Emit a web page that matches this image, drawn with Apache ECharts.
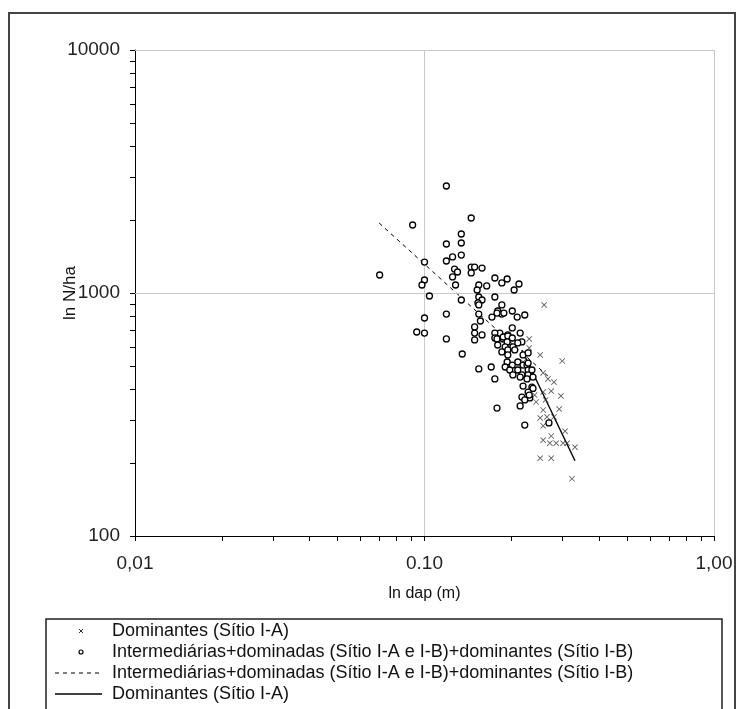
<!DOCTYPE html>
<html>
<head>
<meta charset="utf-8">
<script src="https://cdn.jsdelivr.net/npm/echarts@6/dist/echarts.min.js"></script>
<style>html,body{margin:0;padding:0;background:#fff}#c{width:744px;height:709px}</style>
</head>
<body>
<div id="c"></div>
<script>
// ---- data ----
const xMajorValues = [0.01, 0.1, 1];
const xMajorLabels = ['0,01', '0.10', '1,00'];
const yMajorValues = [100, 1000, 10000];
const yMajorLabels = ['100', '1000', '10000'];
const xTickValues = [0.01,0.02,0.03,0.04,0.05,0.06,0.07,0.08,0.09,0.1,0.2,0.3,0.4,0.5,0.6,0.7,0.8,0.9,1];
const yTickValues = [100,200,300,400,500,600,700,800,900,1000,2000,3000,4000,5000,6000,7000,8000,9000,10000];

const seriesNames = [
  'Dominantes (Sítio I-A)',
  'Intermediárias+dominadas (Sítio I-A e I-B)+dominantes (Sítio I-B)'
];

const dominantPoints = [
  [0.259,893],[0.230,647],[0.230,594],[0.251,556],[0.219,520],[0.228,496],[0.235,473],
  [0.299,525],[0.257,469],[0.267,443],[0.280,430],[0.296,377],[0.257,391],[0.274,395],
  [0.240,380],[0.243,356],[0.262,363],[0.292,333],[0.257,330],[0.265,309],[0.251,306],
  [0.257,284],[0.280,309],[0.306,270],[0.274,258],[0.257,248],[0.271,241],[0.285,241],
  [0.301,241],[0.311,241],[0.331,232],[0.251,209],[0.274,209],[0.323,172]
];

const otherPoints = [
  [0.119,2756],[0.091,1905],[0.145,2035],[0.070,1186],[0.134,1749],[0.134,1606],[0.119,1591],
  [0.134,1433],[0.125,1407],[0.119,1354],[0.100,1341],[0.145,1279],[0.149,1279],[0.158,1267],
  [0.127,1255],[0.130,1220],[0.145,1209],[0.125,1164],[0.175,1153],[0.193,1142],[0.185,1100],
  [0.100,1131],[0.098,1079],[0.128,1079],[0.154,1079],[0.164,1069],[0.212,1089],[0.204,1029],
  [0.152,1029],[0.104,972],[0.154,963],[0.175,963],[0.158,936],[0.134,936],[0.153,910],
  [0.154,893],[0.185,893],[0.119,819],[0.154,819],[0.179,843],[0.201,843],[0.185,819],
  [0.178,827],[0.188,827],[0.222,812],[0.100,789],[0.171,796],[0.209,796],[0.156,767],
  [0.149,725],[0.201,718],[0.094,691],[0.100,684],[0.149,684],[0.158,672],[0.149,641],
  [0.119,647],[0.182,684],[0.175,684],[0.194,672],[0.214,684],[0.175,653],[0.178,647],
  [0.187,647],[0.187,659],[0.194,665],[0.201,653],[0.193,629],[0.217,629],[0.179,611],
  [0.190,600],[0.202,600],[0.210,623],[0.185,572],[0.194,583],[0.205,583],[0.135,561],
  [0.194,556],[0.219,556],[0.228,567],[0.193,520],[0.210,520],[0.201,505],[0.219,505],
  [0.226,505],[0.228,515],[0.228,482],[0.235,482],[0.210,482],[0.154,487],[0.170,496],
  [0.190,496],[0.197,482],[0.217,460],[0.228,460],[0.237,451],[0.214,451],[0.202,460],
  [0.226,443],[0.175,443],[0.219,414],[0.235,410],[0.237,405],[0.217,373],[0.228,391],
  [0.231,370],[0.230,380],[0.222,363],[0.178,336],[0.214,343],[0.269,292],[0.222,286]
];

// fitted lines (end points)
const dashedLineX = [0.0697, 0.269];
const dashedLineY = [1941, 451];
const solidLineX = [0.217, 0.331];
const solidLineY = [583, 204];

// ---- chart ----
const FONT = 'Liberation Sans, Arial, sans-serif';
const crossPath = 'path://M0,1 L1,0 L5,4 L9,0 L10,1 L6,5 L10,9 L9,10 L5,6 L1,10 L0,9 L4,5 Z';

function labelFor(values, labels, v) {
  for (let i = 0; i < values.length; i++) {
    if (Math.abs(Math.log10(values[i]) - Math.log10(v)) < 1e-6) return labels[i];
  }
  return '';
}

const chart = echarts.init(document.getElementById('c'), null, {renderer: 'canvas'});
const gridLineData = [
  {xAxis: 0.1}, {xAxis: 1}, {yAxis: 1000}, {yAxis: 10000}
];

const legendTop = 631, legendStep = 21;
const legendFont = '18px ' + FONT;
const option = {
  backgroundColor: '#fff',
  animation: false,
  grid: {left: 135, top: 50, right: 30, bottom: 173, containLabel: false},
  xAxis: {
    type: 'log', logBase: 10, min: 0.01, max: 1,
    name: 'ln dap (m)', nameLocation: 'middle', nameGap: 50, nameMoveOverlap: false,
    nameTextStyle: {fontFamily: FONT, fontSize: 16, color: '#111'},
    axisLine: {show: true, onZero: false, lineStyle: {color: '#000', width: 1}},
    axisTick: {show: true, inside: false, length: 5, customValues: xTickValues, lineStyle: {color: '#000'}},
    axisLabel: {fontFamily: FONT, fontSize: 19, color: '#222', margin: 18,
      formatter: v => labelFor(xMajorValues, xMajorLabels, v)},
    splitLine: {show: false},
    minorTick: {show: false}
  },
  yAxis: {
    type: 'log', logBase: 10, min: 100, max: 10000,
    name: 'ln N/ha', nameLocation: 'middle', nameGap: 56, nameMoveOverlap: false,
    nameTextStyle: {fontFamily: FONT, fontSize: 17, color: '#111'},
    axisLine: {show: true, onZero: false, lineStyle: {color: '#000', width: 1}},
    axisTick: {show: true, inside: false, length: 5, customValues: yTickValues, lineStyle: {color: '#000'}},
    axisLabel: {fontFamily: FONT, fontSize: 19, color: '#222', margin: 15,
      formatter: v => labelFor(yMajorValues, yMajorLabels, v)},
    splitLine: {show: false},
    minorTick: {show: false}
  },
  series: [
    {
      name: 'grid', type: 'line', data: [], silent: true,
      markLine: {
        silent: true, symbol: 'none', label: {show: false},
        lineStyle: {color: '#c8c8c8', width: 1, type: 'solid'},
        data: gridLineData
      }
    },
    {
      name: seriesNames[0] + ' line', type: 'line', z: 3,
      data: solidLineX.map((x, i) => [x, solidLineY[i]]),
      symbol: 'none', lineStyle: {color: '#000', width: 1.4}
    },
    {
      name: seriesNames[1] + ' line', type: 'line', z: 3,
      data: dashedLineX.map((x, i) => [x, dashedLineY[i]]),
      symbol: 'none', lineStyle: {color: '#000', width: 1, type: [4, 4]}
    },
    {
      name: seriesNames[0], type: 'scatter', z: 4,
      data: dominantPoints, symbol: crossPath, symbolSize: 6,
      itemStyle: {color: '#333'}
    },
    {
      name: seriesNames[1], type: 'scatter', z: 5,
      data: otherPoints, symbol: 'circle', symbolSize: 6,
      itemStyle: {color: '#fff', borderColor: '#000', borderWidth: 1.3, opacity: 1}
    }
  ],
  graphic: [
    {type: 'rect', silent: true, z: 100, shape: {x: 9, y: 13, width: 726, height: 720},
      style: {fill: 'none', stroke: '#444', lineWidth: 2}},
    {type: 'rect', silent: true, z: 100, shape: {x: 46, y: 619, width: 676, height: 120},
      style: {fill: '#fff', stroke: '#222', lineWidth: 1.5}},
    // legend symbols
    {type: 'line', z: 101, shape: {x1: 79, y1: legendTop - 2, x2: 83, y2: legendTop + 2}, style: {stroke: '#333', lineWidth: 1}},
    {type: 'line', z: 101, shape: {x1: 83, y1: legendTop - 2, x2: 79, y2: legendTop + 2}, style: {stroke: '#333', lineWidth: 1}},
    {type: 'circle', z: 101, shape: {cx: 81, cy: legendTop + legendStep, r: 2}, style: {fill: '#fff', stroke: '#000', lineWidth: 1.2}},
    {type: 'line', z: 101, shape: {x1: 55, y1: legendTop + 2 * legendStep, x2: 102, y2: legendTop + 2 * legendStep}, style: {stroke: '#000', lineWidth: 1, lineDash: [4, 4]}},
    {type: 'line', z: 101, shape: {x1: 55, y1: legendTop + 3 * legendStep, x2: 102, y2: legendTop + 3 * legendStep}, style: {stroke: '#000', lineWidth: 1.3}},
    // legend texts
    {type: 'text', z: 101, x: 112, y: legendTop, style: {text: seriesNames[0], font: legendFont, fill: '#111', verticalAlign: 'middle'}},
    {type: 'text', z: 101, x: 112, y: legendTop + legendStep, style: {text: seriesNames[1], font: legendFont, fill: '#111', verticalAlign: 'middle'}},
    {type: 'text', z: 101, x: 112, y: legendTop + 2 * legendStep, style: {text: seriesNames[1], font: legendFont, fill: '#111', verticalAlign: 'middle'}},
    {type: 'text', z: 101, x: 112, y: legendTop + 3 * legendStep, style: {text: seriesNames[0], font: legendFont, fill: '#111', verticalAlign: 'middle'}}
  ]
};
chart.setOption(option);
</script>
</body>
</html>
